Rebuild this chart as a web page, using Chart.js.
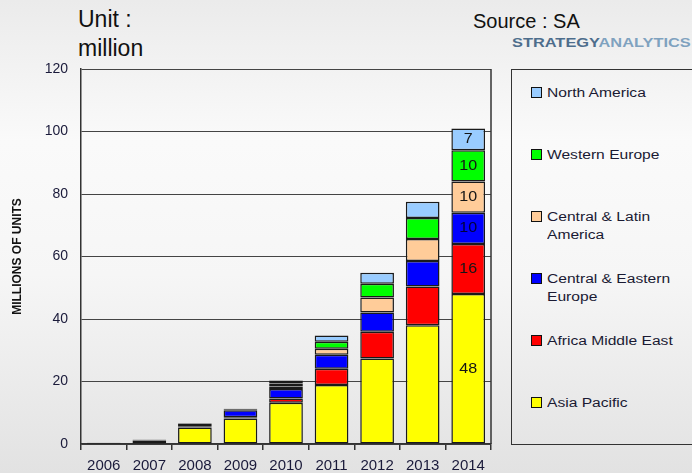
<!DOCTYPE html>
<html><head><meta charset="utf-8">
<script src="https://cdn.jsdelivr.net/npm/chart.js@4.4.0/dist/chart.umd.min.js"></script>
<style>
html,body{margin:0;padding:0;width:692px;height:473px;overflow:hidden;}
body{background:linear-gradient(to bottom,#ebebeb 0%,#fafafa 30%,#f6f6f6 58%,#e2e2e2 100%);font-family:"Liberation Sans",Arial,sans-serif;position:relative;}
#wrap{position:absolute;left:0;top:0;width:500px;height:473px;}
.hdr{position:absolute;white-space:nowrap;color:#111;line-height:1;}
#legend{position:absolute;left:511px;top:68.5px;width:200px;height:376px;border:1.5px solid #333;box-sizing:border-box;}
.item{position:absolute;left:19px;}
.sw{position:absolute;left:0;top:3.5px;width:9px;height:9px;border:1px solid #111;}
.txt{position:absolute;left:16px;top:0;width:100px;font-size:12px;line-height:18px;color:#1a1a33;transform:scaleX(1.3);transform-origin:0 0;}
</style>
</head><body>
<div class="hdr" style="left:78px;top:8px;font-size:23px;">Unit :</div>
<div class="hdr" style="left:78px;top:37px;font-size:23px;">million</div>
<div class="hdr" style="left:473px;top:11px;font-size:20px;">Source : SA</div>
<div class="hdr" style="left:512px;top:36px;font-size:13px;font-weight:bold;transform:scaleX(1.26);transform-origin:0 0;"><span style="color:#4d6d8c">STRATEGY</span><span style="color:#7fa2bf">ANALYTICS</span></div>
<div id="wrap"><canvas id="c"></canvas></div>
<div id="legend"></div>
<script>
const years = ['2006','2007','2008','2009','2010','2011','2012','2013','2014'];
const asiaPacific        = [0.3, 1.0, 5.3, 8.2, 13.2, 18.9, 27.4, 38.0, 48];
const africaMiddleEast   = [0.0, 0.1, 0.2, 0.4, 1.4, 5.2, 8.5, 12.4, 16];
const centralEastEurope  = [0.1, 0.2, 0.9, 2.2, 3.0, 4.5, 6.2, 8.2, 10];
const centralLatAmerica  = [0.0, 0.05, 0.1, 0.2, 0.8, 1.9, 4.8, 7.0, 10];
const westernEurope      = [0.0, 0.05, 0.1, 0.2, 1.0, 2.2, 4.4, 6.7, 10];
const northAmerica       = [0.0, 0.05, 0.1, 0.1, 0.9, 2.0, 3.5, 5.2, 7];
const yTicks = [0, 20, 40, 60, 80, 100, 120];
const labelYear = '2014';

const series = [
  {label:'Asia Pacific', data:asiaPacific, color:'#ffff00'},
  {label:'Africa Middle East', data:africaMiddleEast, color:'#ff0000'},
  {label:'Central & Eastern Europe', data:centralEastEurope, color:'#0000ff'},
  {label:'Central & Latin America', data:centralLatAmerica, color:'#ffcc99'},
  {label:'Western Europe', data:westernEurope, color:'#00ff00'},
  {label:'North America', data:northAmerica, color:'#99ccff'}
];

const frame = {
  id:'frame',
  afterDraw(chart){
    const {ctx, chartArea:a} = chart;
    ctx.save(); ctx.strokeStyle='#333'; ctx.lineWidth=1.5;
    ctx.beginPath(); ctx.moveTo(a.right,a.top); ctx.lineTo(a.right,a.bottom); ctx.stroke();
    ctx.restore();
  }
};
const valueLabels = {
  id:'valueLabels',
  afterDatasetsDraw(chart){
    const ctx = chart.ctx;
    const idx = chart.data.labels.indexOf(labelYear);
    chart.data.datasets.forEach((ds,i)=>{
      const el = chart.getDatasetMeta(i).data[idx];
      if(!el) return;
      ctx.save();
      ctx.font = '14px "Liberation Sans", Arial, sans-serif';
      ctx.fillStyle = i===2 ? '#00003a' : '#151515';
      ctx.textAlign='center'; ctx.textBaseline='middle';
      ctx.translate(el.x, (el.y+el.base)/2);
      ctx.scale(1.15,1);
      ctx.fillText(String(ds.data[idx]), 0, 0);
      ctx.restore();
    });
  }
};

const chart = new Chart(document.getElementById('c'), {
  type:'bar',
  data:{
    labels:years,
    datasets:series.map(s=>({label:s.label,data:s.data,backgroundColor:s.color,borderColor:'#1a1a1a',borderWidth:1.5,borderSkipped:false,categoryPercentage:0.74,barPercentage:1}))
  },
  options:{
    responsive:true, maintainAspectRatio:false, animation:false,
    layout:{padding:{top:69,right:9,left:0,bottom:0}},
    plugins:{legend:{display:false},tooltip:{enabled:false}},
    scales:{
      x:{stacked:true,
        grid:{drawOnChartArea:false,tickLength:6,color:'#333',lineWidth:1.5},
        border:{color:'#333',width:1.5},
        ticks:{font:{size:15,family:'"Liberation Sans", Arial, sans-serif'},color:'#1a1a3a',padding:7,maxRotation:0},
        afterFit(s){s.height=29;}
      },
      y:{stacked:true,min:0,max:120,
        afterBuildTicks(s){s.ticks=yTicks.map(v=>({value:v}));},
        grid:{color:'#444',lineWidth:1,drawTicks:false},
        border:{color:'#333',width:1.5},
        ticks:{font:{size:14,family:'"Liberation Sans", Arial, sans-serif'},color:'#1a1a3a',padding:13},
        title:{display:true,text:'MILLIONS OF UNITS',color:'#111',font:{size:12,weight:'bold',family:'"Liberation Sans", Arial, sans-serif'},padding:{top:10,bottom:0}},
        afterFit(s){s.width=81;}
      }
    }
  },
  plugins:[frame,valueLabels]
});

const legend = document.getElementById('legend');
chart.data.datasets.slice().reverse().forEach((ds,i)=>{
  const it = document.createElement('div');
  it.className='item';
  it.style.top = (14 + i*62) + 'px';
  const sw = document.createElement('div'); sw.className='sw'; sw.style.background = ds.backgroundColor;
  const tx = document.createElement('div'); tx.className='txt'; tx.textContent = ds.label;
  it.appendChild(sw); it.appendChild(tx); legend.appendChild(it);
});
</script>
</body></html>
